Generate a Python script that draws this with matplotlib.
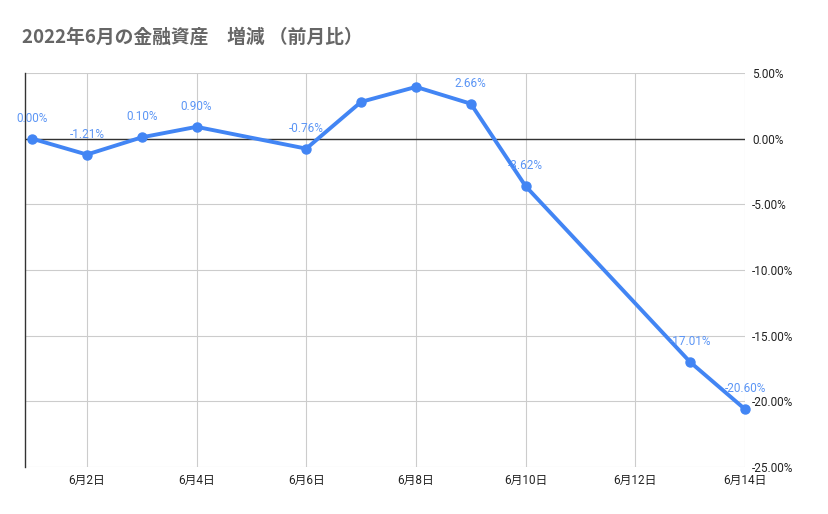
import numpy as np
import matplotlib
matplotlib.use("Agg")
import matplotlib.pyplot as plt
import matplotlib.ticker as mticker

plt.rcParams['font.family'] = ['Roboto', 'Noto Sans CJK JP', 'DejaVu Sans']

# ── data ──────────────────────────────────────────────────────────────────────
days = [1, 2, 3, 4, 6, 7, 8, 9, 10, 13, 14]
change = [0.00, -1.21, 0.10, 0.90, -0.76, 2.80, 3.94, 2.66, -3.62, -17.01, -20.60]
labelled = [True, True, True, True, True, False, False, True, True, True, True]
tick_days = [2, 4, 6, 8, 10, 12, 14]
tick_labels = [f"6月{d}日" for d in tick_days]
y_ticks = [5, 0, -5, -10, -15, -20, -25]

BLUE = "#4285F4"

fig = plt.figure(figsize=(8.29, 5.14), dpi=100)
ax = fig.add_axes([0.0302, 0.0914, 0.8685, 0.7666])

ax.plot(days, change, color=BLUE, lw=2.8, marker="o", ms=6.5,
        solid_joinstyle="round", zorder=3, clip_on=False)

for d, v, show in zip(days, change, labelled):
    if show:
        ax.annotate(f"{v:.2f}%", (d, v), xytext=(0, 10), textcoords="offset points",
                    ha="center", va="bottom", fontsize=8.5, color="#5b95f5", zorder=4)

ax.set_xlim(1 - 7 / 55, 14)
ax.set_ylim(-25, 5)
ax.set_xticks(tick_days)
ax.set_xticklabels(tick_labels, fontsize=8.5, color="#222222")
ax.set_yticks(y_ticks)
ax.yaxis.set_major_formatter(mticker.FuncFormatter(lambda v, p: f"{v:.2f}%"))
ax.yaxis.tick_right()
ax.tick_params(axis="y", labelsize=8.5, labelcolor="#222222", length=0, pad=5)
ax.tick_params(axis="x", length=0, pad=5)

ax.grid(True, color="#cccccc", lw=0.8)
ax.set_axisbelow(True)
for s in ["top", "right", "bottom"]:
    ax.spines[s].set_visible(False)
ax.spines["left"].set_color("#333333")
ax.spines["left"].set_linewidth(1.0)
ax.axhline(0, color="#333333", lw=1.0, zorder=2)

fig.text(22 / 829, 1 - 37 / 514, "2022年6月の金融資産　増減 （前月比）",
         fontsize=13.5, fontweight="bold", color="#666666", va="center", ha="left",
         family=['Noto Sans CJK JP', 'DejaVu Sans'])

fig.savefig("out.png", dpi=100)
